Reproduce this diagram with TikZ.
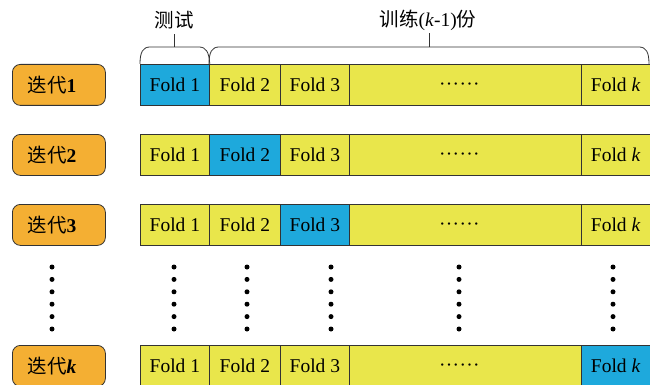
\documentclass[tikz,border=0pt]{standalone}
\usepackage{fontspec}
\setmainfont{Liberation Serif}
\newfontfamily\cjk{Noto Sans CJK SC}
\definecolor{foldblue}{HTML}{1EA9DC}
\definecolor{foldyellow}{HTML}{E9E64B}
\definecolor{iterorange}{HTML}{F4AF33}
\definecolor{edgegray}{HTML}{333333}
\begin{document}
\begin{tikzpicture}[x=1pt,y=-1pt,
  cell/.style={draw=edgegray,line width=0.8pt,minimum height=41pt,inner sep=0pt,anchor=north west,font=\fontsize{19.5}{19.5}\selectfont},
  yel/.style={cell,fill=foldyellow},
  blu/.style={cell,fill=foldblue},
  iter/.style={draw=edgegray,line width=0.8pt,fill=iterorange,rounded corners=8pt,minimum width=93pt,minimum height=41pt,inner sep=0pt,anchor=north west,font=\fontsize{19.5}{19.5}\selectfont},
  brace/.style={draw=edgegray,line width=0.8pt},
  vdot/.style={circle,fill=black,inner sep=0pt,minimum size=5pt},
  ell/.style={inner sep=0pt,anchor=base,font=\fontsize{19.5}{19.5}\selectfont,xshift=-6pt,yshift=-5.5pt},
  head/.style={font=\fontsize{19.5}{19.5}\selectfont}]
\useasboundingbox (0,0) rectangle (650,385);
\fill[white] (0,0) rectangle (650,385);

% rows
\foreach \r/\y/\lab/\b in {1/64/{\textbf{1}}/1, 2/134/{\textbf{2}}/2, 3/204/{\textbf{3}}/3, 4/345/{\textbf{\textit{k}}}/4} {
  \node[iter] (it\r) at (12,\y) {\hspace*{-14pt}{\cjk 迭代}\lab};
  \ifnum\b=1 \node[blu,minimum width=69pt] (f\r a) at (140,\y) {Fold 1};
  \else \node[yel,minimum width=69pt] (f\r a) at (140,\y) {Fold 1}; \fi
  \ifnum\b=2 \node[blu,minimum width=71pt] (f\r b) at (209,\y) {Fold 2};
  \else \node[yel,minimum width=71pt] (f\r b) at (209,\y) {Fold 2}; \fi
  \ifnum\b=3 \node[blu,minimum width=69pt] (f\r c) at (280,\y) {Fold 3};
  \else \node[yel,minimum width=69pt] (f\r c) at (280,\y) {Fold 3}; \fi
  \node[yel,minimum width=232pt] (f\r d) at (349,\y) {};
  \node[ell] (e\r) at (f\r d.center) {·\kern0.3pt·\kern0.3pt·\kern0.3pt·\kern0.3pt·\kern0.3pt·};
  \ifnum\b=4 \node[blu,minimum width=68.6pt] (f\r e) at (581,\y) {Fold \textit{k}};
  \else \node[yel,minimum width=68.6pt] (f\r e) at (581,\y) {Fold \textit{k}}; \fi
}

% braces
\path[brace] (f1a.north west) .. controls ++(0,-12) and (143,47) .. (150,47)
  -- (199,47) .. controls (206,47) and (209,52) .. (f1a.north east);
\path[brace] (f1b.north west) .. controls (209,52) and (212,47) .. (219,47)
  -- (639,47) .. controls (646,47) and (649,52) .. (649,64);
\coordinate (t1) at (174.5,47);
\coordinate (t2) at (429,47);
\node[head] (h1) at (174,20) {\cjk 测试};
\node[head] (h2) at (428,20) {{\cjk 训练}(\textit{k}-1){\cjk 份}};
\draw[brace] (t1) -- (174.5,34);
\draw[brace] (t2) -- (429,33);

% vertical dots
\foreach \x [count=\i] in {52,174,247,331,459,613} {
  \foreach \j in {0,...,5} {
    \node[vdot] (d\i\j) at (\x,267+12.4*\j) {};
  }
}
\end{tikzpicture}
\end{document}
